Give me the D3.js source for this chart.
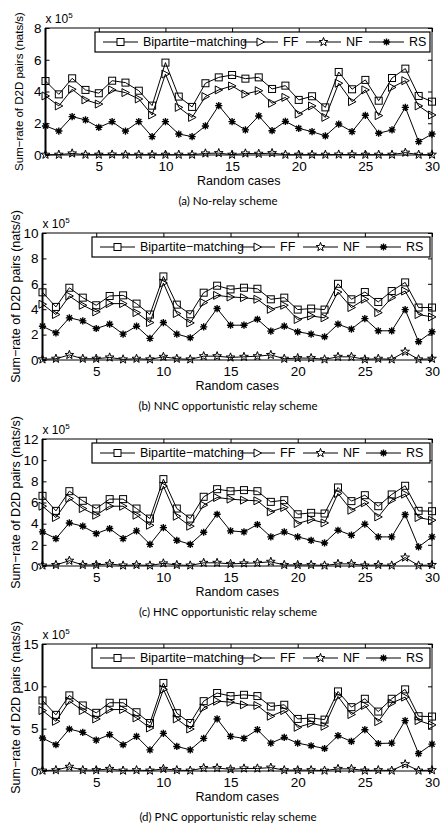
<!DOCTYPE html>
<html><head><meta charset="utf-8">
<script src="https://cdn.jsdelivr.net/npm/d3@7"></script>
<style>body{margin:0;background:#fff}svg{display:block}</style>
</head><body>
<svg id="chart" width="441" height="827"></svg>
<script>
// ---- data (values in units of 10^5 nats/s) ----
const cases = [1,2,3,4,5,6,7,8,9,10,11,12,13,14,15,16,17,18,19,20,21,22,23,24,25,26,27,28,29,30];
const seriesNames = ["Bipartite\u2212matching","FF","NF","RS"];
const xTicks = [5,10,15,20,25,30];

const bmA = [4.66,3.82,4.83,4.10,3.89,4.68,4.56,4.05,3.11,5.82,3.68,3.03,4.52,4.89,5.04,4.81,4.89,4.16,4.37,3.47,3.70,3.00,5.23,4.14,4.73,3.42,4.85,5.44,3.72,3.36];
const ffA = [3.72,3.09,4.14,3.47,3.21,4.10,3.93,3.53,2.52,5.10,3.00,2.37,3.68,4.10,4.35,3.84,4.05,3.26,3.63,2.58,3.09,2.37,4.52,3.36,4.10,2.48,4.26,4.68,3.09,2.52];
const nfA = [0.02,0.02,0.10,0.02,0.02,0.03,0.02,0.02,0.02,0.02,0.02,0.02,0.10,0.12,0.02,0.10,0.08,0.12,0.02,0.02,0.02,0.02,0.03,0.03,0.02,0.02,0.02,0.15,0.02,0.02];
const rsA = [1.83,1.51,2.42,2.21,1.74,2.10,1.51,2.10,1.16,2.10,1.32,1.16,1.83,3.11,2.10,1.58,2.46,1.53,2.12,1.68,1.47,1.20,1.95,1.47,2.50,1.37,1.58,3.00,0.84,1.32];

const bmB = [5.33,4.18,5.69,4.91,4.31,5.04,5.09,4.44,3.58,6.58,4.36,3.60,5.30,5.85,5.56,5.69,5.61,4.78,4.91,3.97,4.05,3.97,6.00,4.78,5.35,4.57,5.43,6.11,4.13,4.13];
const ffB = [4.39,3.58,5.04,4.31,3.79,4.44,4.44,3.73,2.95,6.06,3.66,2.92,4.52,5.09,4.96,4.91,4.78,3.99,4.31,3.19,3.47,3.32,5.35,4.13,4.78,3.73,4.91,5.43,3.58,3.39];
const nfB = [0.05,0.10,0.40,0.10,0.10,0.20,0.05,0.10,0.05,0.25,0.10,0.05,0.30,0.30,0.20,0.25,0.30,0.40,0.10,0.15,0.15,0.05,0.25,0.25,0.05,0.10,0.05,0.65,0.05,0.10];
const rsB = [2.66,2.14,3.32,3.08,2.48,2.82,2.04,2.66,1.70,2.95,2.04,1.75,2.61,4.05,2.74,2.74,3.21,2.27,2.66,2.22,2.04,1.83,2.82,2.43,3.26,2.30,2.30,3.97,1.44,2.22];

const bmC = [6.63,5.21,7.07,6.16,5.43,6.32,6.32,5.43,4.48,8.21,5.43,4.48,6.54,7.26,7.07,7.17,7.07,6.06,6.22,4.89,5.02,4.96,7.42,6.13,6.69,5.65,6.76,7.58,5.21,5.18];
const ffC = [5.65,4.58,6.38,5.43,4.80,5.65,5.65,4.80,3.85,7.55,4.70,3.76,5.75,6.47,6.32,6.22,6.16,5.12,5.53,4.01,4.39,4.07,6.85,5.27,5.97,4.64,6.22,6.79,4.58,4.33];
const nfC = [0.05,0.10,0.50,0.10,0.10,0.20,0.05,0.10,0.05,0.25,0.10,0.05,0.30,0.30,0.20,0.25,0.30,0.40,0.10,0.10,0.10,0.05,0.20,0.20,0.05,0.10,0.05,0.80,0.05,0.10];
const rsC = [3.22,2.59,4.07,3.76,3.06,3.54,2.59,3.32,2.05,3.63,2.43,2.05,3.19,4.89,3.32,3.22,3.92,2.75,3.22,2.75,2.43,2.18,3.38,2.91,3.95,2.75,2.75,4.86,1.80,2.75];

const bmD = [8.33,6.63,8.93,7.74,6.87,8.06,8.06,6.94,5.67,10.40,6.83,5.67,8.25,9.21,8.85,9.00,8.85,7.62,7.82,6.15,6.27,6.07,9.40,7.54,8.53,7.02,8.53,9.64,6.47,6.43];
const ffD = [7.14,5.87,8.25,7.14,6.15,7.26,7.26,6.27,5.08,9.64,6.15,4.96,7.46,8.25,8.13,7.82,7.74,6.47,7.14,5.16,5.63,5.28,8.81,6.67,7.74,5.83,8.02,8.73,5.95,5.44];
const nfD = [0.05,0.10,0.50,0.10,0.10,0.25,0.05,0.10,0.05,0.25,0.10,0.05,0.35,0.35,0.20,0.30,0.30,0.40,0.10,0.10,0.10,0.05,0.25,0.25,0.05,0.10,0.05,0.80,0.05,0.10];
const rsD = [3.89,3.10,4.96,4.56,3.65,4.29,3.10,4.09,2.50,4.44,2.90,2.50,3.85,6.15,4.09,3.85,4.88,3.29,3.97,3.29,2.98,2.66,4.17,3.49,4.88,3.25,3.29,5.95,2.06,3.17];

const yTicksA = [0,2,4,6,8];
const yTicksB = [0,2,4,6,8,10];
const yTicksC = [0,2,4,6,8,10,12];
const yTicksD = [0,5,10,15];
const captions = ["(a) No-relay scheme","(b) NNC opportunistic relay scheme","(c) HNC opportunistic relay scheme","(d) PNC opportunistic relay scheme"];

// ---- layout ----
const panels = [
  {top:28,  left:45.5, yTicks:yTicksA, series:[bmA,ffA,nfA,rsA], caption:captions[0], ylab:11.5},
  {top:233, left:42.5, yTicks:yTicksB, series:[bmB,ffB,nfB,rsB], caption:captions[1], ylab:12.5},
  {top:439, left:42.5, yTicks:yTicksC, series:[bmC,ffC,nfC,rsC], caption:captions[2], ylab:12.5},
  {top:644, left:42.5, yTicks:yTicksD, series:[bmD,ffD,nfD,rsD], caption:captions[3], ylab:12.5}
];
const RIGHT = 432, H = 127;
const FONT = "'Liberation Sans', Arial, sans-serif";
const CAPFONT = "Lato, 'Open Sans', sans-serif";

const svg = d3.select("#chart");

function starPath(ro, ri){
  let p = "";
  for(let i=0;i<10;i++){
    const r = i%2===0 ? ro : ri;
    const a = -Math.PI/2 + i*Math.PI/5;
    p += (i===0?"M":"L") + (r*Math.cos(a)).toFixed(2) + "," + (r*Math.sin(a)).toFixed(2);
  }
  return p + "Z";
}
const markers = [
  g => g.append("rect").attr("x",-3.5).attr("y",-3.5).attr("width",7).attr("height",7),
  g => g.append("path").attr("d","M-3.5,-4L4,0L-3.5,4Z"),
  g => g.append("path").attr("d", starPath(4.6,1.9)),
  g => g.append("path").attr("d","M-3.6,0H3.6M0,-3.6V3.6M-2.6,-2.6L2.6,2.6M-2.6,2.6L2.6,-2.6")
];

panels.forEach(p => {
  const g = svg.append("g");
  const ymax = p.yTicks[p.yTicks.length-1];
  const x = d3.scaleLinear().domain([1,30]).range([p.left, RIGHT]);
  const y = d3.scaleLinear().domain([0,ymax]).range([p.top+H, p.top]);
  const bottom = p.top + H;

  const ax = g.append("g").attr("transform",`translate(0,${bottom})`)
    .call(d3.axisBottom(x).tickValues(xTicks).tickSize(-4).tickPadding(6));
  const axTop = g.append("g").attr("transform",`translate(0,${p.top})`)
    .call(d3.axisTop(x).tickValues(xTicks).tickSize(-4).tickFormat(""));
  const ay = g.append("g").attr("transform",`translate(${p.left},0)`)
    .call(d3.axisLeft(y).tickValues(p.yTicks).tickSize(-4).tickPadding(4));
  const ayR = g.append("g").attr("transform",`translate(${RIGHT},0)`)
    .call(d3.axisRight(y).tickValues(p.yTicks).tickSize(-4).tickFormat(""));
  [ax,axTop,ay,ayR].forEach(a => {
    a.select(".domain").remove();
    a.selectAll("line").attr("stroke","#000").attr("stroke-width",1);
    a.selectAll("text").attr("font-family",FONT).attr("font-size",13.5).attr("fill","#000");
  });
  ax.selectAll("text").attr("dy","0.71em");

  g.append("rect").attr("x",p.left).attr("y",p.top).attr("width",RIGHT-p.left).attr("height",H)
    .attr("fill","none").attr("stroke","#000").attr("stroke-width",1);
  g.append("line").attr("x1",p.left).attr("x2",p.left).attr("y1",p.top).attr("y2",bottom)
    .attr("stroke","#000").attr("stroke-width",2);

  const line = d3.line().x((d,i)=>x(cases[i])).y(d=>y(d));
  p.series.forEach((vals, si) => {
    g.append("path").datum(vals).attr("d",line).attr("fill","none").attr("stroke","#000").attr("stroke-width",1);
    const mg = g.append("g").attr("fill", "none").attr("stroke","#000").attr("stroke-width", si===3?1.4:1);
    vals.forEach((v,i) => {
      const m = mg.append("g").attr("transform",`translate(${x(cases[i])},${y(v)})`);
      markers[si](m);
    });
  });

  const lx = p.left + 49.5, ly = p.top + 4, lw = RIGHT - 2 - lx, lh = 20;
  const lg = g.append("g");
  lg.append("rect").attr("x",lx).attr("y",ly).attr("width",lw).attr("height",lh)
    .attr("fill","#fff").attr("stroke","#000").attr("stroke-width",1.2);
  const offs = [8,148,211,274];
  seriesNames.forEach((name, si) => {
    const sx = lx + offs[si], cy = ly + lh/2;
    lg.append("line").attr("x1",sx).attr("x2",sx+35).attr("y1",cy).attr("y2",cy).attr("stroke","#000");
    const m = lg.append("g").attr("transform",`translate(${sx+17.5},${cy})`)
      .attr("fill","#fff").attr("stroke","#000").attr("stroke-width", si===3?1.4:1);
    markers[si](m);
    lg.append("text").attr("x",sx+40).attr("y",cy).attr("dy","0.35em")
      .attr("font-family",FONT).attr("font-size",12.5).text(name);
  });

  const ex = g.append("text").attr("x",p.left).attr("y",p.top-5).attr("font-family",FONT).attr("font-size",12);
  ex.append("tspan").text("x 10");
  ex.append("tspan").attr("dy",-5).attr("font-size",8).text("5");

  g.append("text").attr("x",(p.left+RIGHT)/2).attr("y",bottom+30).attr("text-anchor","middle")
    .attr("font-family",FONT).attr("font-size",12.5).text("Random cases");
  g.append("text").attr("transform",`translate(${p.left-23},${p.top+H/2}) rotate(-90)`)
    .attr("text-anchor","middle").attr("font-family",FONT).attr("font-size",p.ylab)
    .text("Sum\u2212rate of D2D pairs (nats/s)");
  g.append("text").attr("x",228).attr("y",bottom+50).attr("text-anchor","middle")
    .attr("font-family",CAPFONT).attr("font-size",11.5).text(p.caption);
});
</script>
</body></html>
